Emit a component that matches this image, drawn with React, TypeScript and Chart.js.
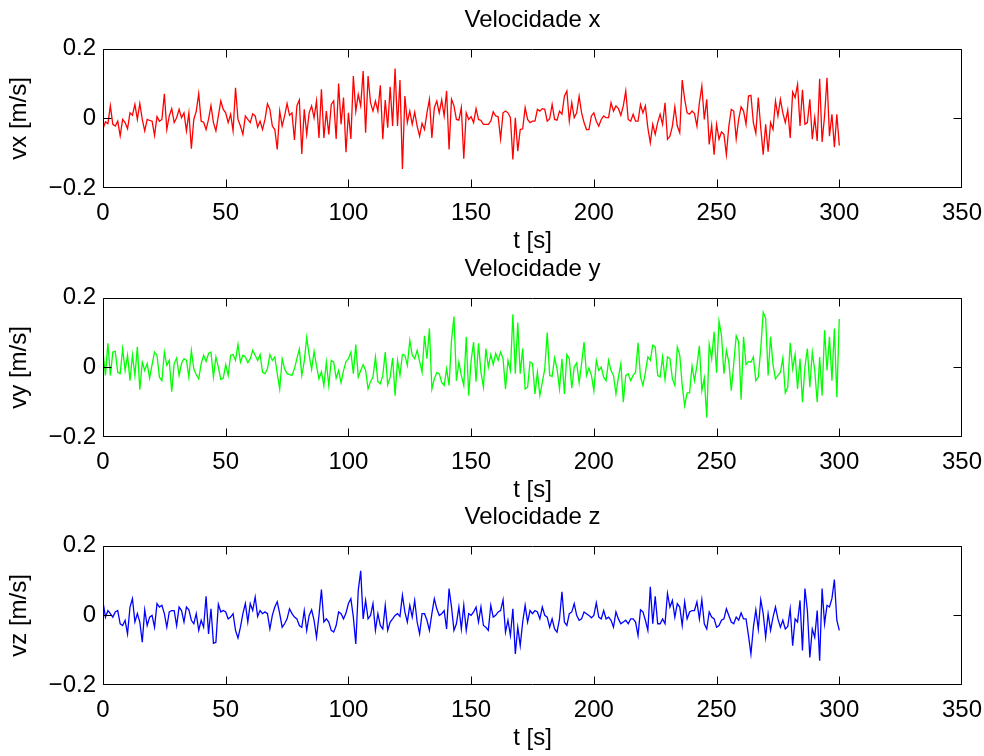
import React, { useEffect, useRef } from 'react';
import { Chart, registerables } from 'chart.js';

Chart.register(...registerables);

const FONT = "'Liberation Sans', Arial, Helvetica, sans-serif";
Chart.defaults.font.family = FONT;
Chart.defaults.color = '#000000';

// sample times (s)
const TIME_S = Array.from({ length: 301 }, (_, i) => i);

const VX = [
  -0.030, -0.010, -0.015, 0.036, -0.017, -0.022, -0.008, -0.050, -0.003, -0.012,
  -0.030, 0.016, 0.009, 0.040, -0.003, 0.043, -0.003, -0.036, -0.003, -0.006,
  -0.008, -0.049, 0.005, -0.008, -0.003, 0.071, -0.032, 0.007, 0.028, -0.012,
  0.002, 0.026, 0.002, 0.016, -0.036, 0.016, -0.087, -0.003, 0.021, 0.071,
  -0.008, -0.011, -0.032, -0.003, 0.037, -0.012, -0.036, 0.007, 0.050, 0.026,
  0.016, -0.012, 0.012, -0.036, 0.088, -0.003, -0.022, -0.046, 0.007, -0.003,
  -0.012, 0.013, 0.007, -0.025, -0.008, -0.032, -0.003, 0.042, 0.026, -0.022,
  -0.032, -0.089, 0.021, -0.022, 0.007, 0.043, 0.009, 0.016, -0.062, 0.036,
  0.053, -0.102, 0.026, -0.046, 0.016, 0.036, 0.002, 0.050, -0.056, 0.084,
  -0.056, 0.021, -0.046, 0.040, 0.050, -0.059, 0.100, -0.017, 0.060, -0.097,
  0.016, -0.059, 0.122, 0.021, 0.069, 0.036, 0.136, -0.041, 0.122, 0.045,
  0.021, 0.050, 0.021, 0.095, -0.060, 0.053, -0.027, 0.091, -0.022, 0.143,
  -0.022, 0.110, -0.145, 0.064, -0.012, 0.021, -0.017, 0.018, -0.022, -0.051,
  -0.014, -0.032, 0.016, 0.055, -0.056, 0.031, 0.050, 0.016, 0.053, 0.007,
  0.079, -0.089, 0.055, 0.036, -0.003, -0.005, 0.031, -0.116, 0.016, -0.003,
  0.005, -0.012, 0.028, -0.003, -0.006, -0.017, -0.017, -0.017, -0.008, 0.019,
  0.007, 0.005, -0.059, 0.016, 0.021, 0.016, 0.002, -0.118, 0.002, -0.094,
  -0.032, -0.030, 0.031, -0.003, -0.012, -0.008, -0.008, 0.026, 0.021, 0.028,
  0.026, -0.008, -0.001, 0.040, -0.003, -0.005, 0.021, 0.012, 0.064, 0.079,
  -0.008, 0.045, 0.002, 0.016, 0.064, 0.016, -0.012, -0.032, -0.032, 0.007,
  0.016, -0.008, -0.022, -0.003, 0.007, 0.002, 0.002, 0.045, 0.021, 0.036,
  0.028, 0.009, 0.036, 0.079, -0.003, -0.008, 0.012, -0.008, -0.008, 0.040,
  0.016, 0.036, -0.027, -0.070, -0.017, -0.046, -0.012, 0.012, -0.017, 0.045,
  -0.060, -0.051, -0.022, 0.033, -0.022, -0.041, 0.110, 0.055, 0.016, 0.012,
  0.021, 0.014, -0.022, 0.045, 0.093, -0.003, 0.055, -0.075, -0.020, -0.104,
  -0.017, -0.060, -0.039, -0.046, -0.104, -0.022, 0.026, 0.021, -0.059, -0.003,
  0.033, 0.021, -0.017, 0.064, 0.066, -0.012, -0.043, 0.060, -0.027, -0.104,
  -0.017, -0.096, -0.012, -0.032, 0.050, 0.007, 0.055, 0.016, -0.012, 0.024,
  -0.056, 0.076, 0.060, 0.098, -0.022, 0.082, -0.017, -0.012, 0.055, -0.060,
  0.002, -0.065, 0.114, -0.068, 0.007, 0.117, -0.051, 0.012, -0.083, 0.012, -0.078,
];

const VY = [
  0.044, -0.023, 0.069, -0.023, 0.044, 0.046, -0.014, -0.018, 0.054, -0.009,
  0.035, -0.038, 0.035, -0.023, 0.059, -0.064, 0.015, -0.009, 0.011, -0.031,
  0.008, 0.044, 0.035, -0.028, -0.038, 0.044, 0.006, 0.020, -0.070, 0.011,
  0.027, -0.023, 0.011, 0.025, 0.020, -0.028, 0.049, -0.004, -0.021, -0.033,
  0.011, 0.035, 0.017, 0.040, 0.044, -0.028, 0.030, 0.001, -0.035, -0.031,
  0.008, -0.023, 0.035, 0.037, 0.020, 0.066, 0.015, 0.035, 0.030, 0.014,
  0.025, 0.049, 0.035, 0.020, 0.037, -0.014, -0.018, -0.004, 0.037, 0.020,
  0.030, -0.018, -0.062, 0.025, -0.004, -0.018, -0.021, -0.023, -0.004, 0.025,
  0.052, -0.023, 0.017, 0.086, 0.035, -0.006, 0.046, 0.004, -0.033, -0.012,
  -0.052, 0.015, -0.052, 0.020, 0.015, -0.031, -0.009, -0.044, -0.009, 0.017,
  0.025, 0.044, -0.018, 0.066, -0.028, -0.009, 0.008, -0.009, -0.062, -0.041,
  -0.028, 0.030, -0.041, -0.047, -0.023, 0.044, -0.050, -0.028, 0.027, -0.081,
  0.020, -0.023, 0.037, 0.035, 0.006, 0.078, 0.035, 0.025, 0.049, 0.017,
  -0.014, 0.091, 0.025, 0.112, -0.062, -0.033, -0.015, -0.018, -0.043, -0.052,
  -0.004, -0.052, 0.078, 0.146, -0.038, 0.015, -0.023, -0.052, 0.088, -0.081,
  0.020, 0.073, -0.041, 0.069, -0.014, -0.057, 0.054, 0.001, 0.037, 0.008,
  0.040, 0.020, 0.044, 0.025, -0.062, 0.020, -0.009, 0.153, -0.018, 0.129,
  -0.018, 0.054, -0.062, -0.057, 0.016, 0.011, -0.076, -0.014, -0.081, -0.043,
  -0.004, 0.100, -0.023, -0.026, 0.027, -0.004, -0.062, 0.025, -0.076, 0.037,
  0.025, -0.060, 0.001, 0.013, -0.044, 0.011, 0.073, -0.023, -0.002, -0.023,
  -0.067, 0.020, -0.009, 0.001, -0.028, -0.038, 0.020, -0.009, -0.023, -0.076,
  -0.028, 0.011, -0.100, -0.023, -0.018, -0.038, -0.023, -0.014, 0.071, -0.028,
  -0.052, -0.014, 0.030, 0.020, 0.064, 0.059, -0.023, -0.028, 0.030, -0.035,
  0.030, 0.025, -0.033, -0.052, 0.059, 0.035, -0.052, -0.110, -0.073, -0.073,
  0.004, -0.038, 0.006, 0.062, -0.067, -0.031, -0.144, 0.066, 0.025, 0.102,
  -0.015, 0.133, 0.093, -0.018, 0.049, 0.015, -0.067, 0.011, 0.091, 0.073,
  -0.093, 0.088, 0.008, 0.017, 0.015, 0.030, -0.038, -0.028, 0.054, 0.158,
  0.141, -0.023, 0.088, 0.008, -0.033, -0.023, -0.014, 0.027, -0.073, -0.057,
  0.071, -0.004, 0.037, -0.062, 0.025, -0.100, 0.001, 0.054, -0.057, 0.044,
  -0.009, -0.100, 0.030, -0.081, 0.107, -0.009, 0.088, -0.038, 0.112, -0.086, 0.139,
];

const VZ = [
  0.039, -0.005, 0.014, 0.005, -0.005, 0.010, 0.014, -0.024, -0.029, -0.014,
  -0.053, 0.024, 0.048, -0.019, 0.005, -0.019, -0.077, 0.016, -0.029, -0.005,
  0.000, -0.034, 0.034, 0.024, 0.029, 0.005, -0.034, 0.010, 0.014, 0.014,
  -0.029, 0.024, 0.014, -0.019, 0.024, 0.016, -0.014, -0.024, 0.005, -0.043,
  -0.014, -0.034, 0.055, -0.053, 0.019, -0.080, -0.077, 0.032, 0.010, 0.014,
  0.010, -0.010, -0.005, 0.005, -0.043, -0.065, -0.034, 0.005, 0.034, -0.019,
  0.034, 0.014, 0.053, -0.003, 0.014, 0.005, 0.010, 0.005, -0.039, 0.000,
  0.024, 0.039, 0.005, -0.034, -0.024, -0.010, 0.019, 0.005, -0.005, -0.010,
  -0.029, -0.034, 0.014, -0.043, 0.000, 0.016, -0.014, -0.063, 0.000, 0.074,
  -0.019, -0.010, -0.019, -0.043, -0.048, -0.029, 0.010, 0.005, -0.010, 0.007,
  0.034, 0.048, -0.005, -0.082, 0.072, 0.128, -0.010, 0.043, -0.010, 0.000,
  0.034, -0.043, 0.005, -0.029, -0.039, 0.029, -0.043, -0.019, -0.010, 0.000,
  0.005, -0.003, 0.058, 0.010, -0.019, 0.029, -0.005, 0.043, -0.019, -0.053,
  0.005, 0.005, -0.014, -0.043, 0.005, 0.048, 0.019, 0.000, 0.005, 0.014,
  -0.039, 0.077, 0.024, -0.043, -0.024, 0.024, -0.039, 0.029, -0.043, 0.005,
  0.000, 0.010, 0.024, -0.019, 0.024, -0.029, -0.034, -0.043, 0.029, -0.005,
  0.000, 0.010, 0.014, 0.045, -0.048, -0.014, -0.058, 0.019, -0.111, -0.034,
  -0.087, -0.019, 0.029, -0.019, 0.014, 0.005, 0.014, 0.010, -0.010, 0.024,
  0.000, -0.005, -0.034, -0.010, -0.039, -0.048, -0.010, 0.068, -0.019, -0.029,
  0.005, 0.010, 0.034, 0.000, -0.014, -0.010, 0.010, 0.005, 0.000, -0.007,
  0.000, 0.036, -0.005, -0.010, 0.014, -0.010, -0.005, -0.014, -0.034, 0.010,
  -0.010, -0.024, -0.019, -0.014, -0.024, -0.010, -0.010, -0.019, -0.058, 0.016,
  0.010, -0.014, -0.043, 0.082, -0.024, 0.055, -0.024, -0.024, -0.010, -0.024,
  0.063, 0.024, 0.043, -0.005, 0.034, 0.024, -0.029, 0.039, -0.010, 0.010,
  0.014, 0.014, 0.039, -0.010, 0.045, -0.024, -0.039, 0.010, -0.005, -0.010,
  -0.034, -0.029, -0.014, -0.010, 0.019, 0.000, -0.019, -0.024, -0.005, -0.014,
  0.007, -0.010, -0.010, -0.058, -0.111, -0.034, 0.016, -0.039, 0.045, 0.005,
  -0.063, 0.005, -0.043, -0.005, 0.024, -0.010, -0.034, -0.014, -0.039, -0.032,
  0.019, -0.087, -0.010, -0.019, 0.043, -0.101, 0.077, 0.014, -0.121, -0.039,
  -0.063, 0.014, -0.130, 0.077, -0.024, 0.029, 0.024, 0.048, 0.103, -0.014, -0.043,
];

const X_TICKS = [0, 50, 100, 150, 200, 250, 300, 350];
const Y_TICKS = [-0.2, 0, 0.2];
const X_LABEL = 't [s]';
const TITLES = ['Velocidade x', 'Velocidade y', 'Velocidade z'];
const Y_LABELS = ['vx [m/s]', 'vy [m/s]', 'vz [m/s]'];
const COLORS = ['#ff0000', '#00ff00', '#0000ff'];
const SERIES = [VX, VY, VZ];

const CANVAS_W = 984;
const CANVAS_H = 258;
const CANVAS_TOPS = [0, 249, 497];

const formatY = (v: number) => (v === 0 ? '0' : (v < 0 ? '\u2212' : '') + Math.abs(v).toFixed(1));

const framePlugin = {
  id: 'matlabFrame',
  afterDraw(chart: any) {
    const { ctx, chartArea, scales } = chart;
    const l = Math.round(chartArea.left) + 0.5;
    const r = Math.round(chartArea.right) - 0.5;
    const t = Math.round(chartArea.top) + 0.5;
    const b = Math.round(chartArea.bottom) - 0.5;
    const tl = 8;
    ctx.save();
    ctx.strokeStyle = '#000000';
    ctx.lineWidth = 1;
    ctx.beginPath();
    ctx.rect(l, t, r - l, b - t);
    X_TICKS.forEach((v) => {
      const px = Math.min(Math.round(scales.x.getPixelForValue(v)) + 0.5, r);
      ctx.moveTo(px, b);
      ctx.lineTo(px, b - tl);
      ctx.moveTo(px, t);
      ctx.lineTo(px, t + tl);
    });
    Y_TICKS.forEach((v) => {
      const py = Math.min(Math.max(Math.round(scales.y.getPixelForValue(v)) + 0.5, t), b);
      ctx.moveTo(l, py);
      ctx.lineTo(l + tl, py);
      ctx.moveTo(r, py);
      ctx.lineTo(r - tl, py);
    });
    ctx.stroke();
    ctx.restore();
  },
};

function Subplot({ index }: { index: number }) {
  const ref = useRef<HTMLCanvasElement | null>(null);
  useEffect(() => {
    if (!ref.current) return;
    const values = SERIES[index];
    const chart = new Chart(ref.current, {
      type: 'line',
      data: {
        datasets: [
          {
            data: values.map((v, i) => ({ x: TIME_S[i], y: v })),
            borderColor: COLORS[index],
            borderWidth: 1.3,
            pointRadius: 0,
            tension: 0,
            fill: false,
          },
        ],
      },
      options: {
        animation: false,
        responsive: false,
        devicePixelRatio: 1,
        layout: { padding: { left: 0, right: 22, top: 0, bottom: 0 } },
        plugins: {
          legend: { display: false },
          tooltip: { enabled: false },
          title: {
            display: true,
            fullSize: false,
            text: TITLES[index],
            color: '#000000',
            font: { family: FONT, size: 24, weight: 'normal', lineHeight: 1.2 },
            padding: { top: 6, bottom: 14 },
          },
        },
        scales: {
          x: {
            type: 'linear',
            min: 0,
            max: 350,
            afterBuildTicks: (s: any) => {
              s.ticks = X_TICKS.map((v) => ({ value: v }));
            },
            afterFit: (s: any) => {
              s.height = 70;
              s.paddingLeft = 0;
              s.paddingRight = 0;
            },
            ticks: {
              color: '#000000',
              font: { family: FONT, size: 24, lineHeight: 1.2 },
              padding: 11,
              maxRotation: 0,
              autoSkip: false,
              callback: (v: any) => String(v),
            },
            grid: { display: false, drawTicks: false },
            border: { display: false },
            title: {
              display: true,
              text: X_LABEL,
              color: '#000000',
              font: { family: FONT, size: 24, lineHeight: 1.2 },
              padding: { top: 0, bottom: 2.6 },
            },
          },
          y: {
            type: 'linear',
            min: -0.2,
            max: 0.2,
            afterBuildTicks: (s: any) => {
              s.ticks = Y_TICKS.map((v) => ({ value: v }));
            },
            afterFit: (s: any) => {
              s.width = 103;
              s.paddingTop = 0;
              s.paddingBottom = 0;
            },
            ticks: {
              color: '#000000',
              font: { family: FONT, size: 24, lineHeight: 1.2 },
              padding: 7,
              autoSkip: false,
              callback: (v: any) => formatY(Number(v)),
            },
            grid: { display: false, drawTicks: false },
            border: { display: false },
            title: {
              display: true,
              text: Y_LABELS[index],
              color: '#000000',
              font: { family: FONT, size: 24, lineHeight: 1.2 },
              padding: { top: 5, bottom: 0 },
            },
          },
        },
      },
      plugins: [framePlugin],
    } as any);
    return () => chart.destroy();
  }, [index]);
  return (
    <canvas
      ref={ref}
      width={CANVAS_W}
      height={CANVAS_H}
      style={{ position: 'absolute', left: 0, top: CANVAS_TOPS[index], width: CANVAS_W, height: CANVAS_H }}
    />
  );
}

export default function App() {
  return (
    <div style={{ position: 'absolute', left: 0, top: 0, width: 984, height: 756, background: '#ffffff', overflow: 'hidden' }}>
      {[0, 1, 2].map((i) => (
        <Subplot key={i} index={i} />
      ))}
    </div>
  );
}
